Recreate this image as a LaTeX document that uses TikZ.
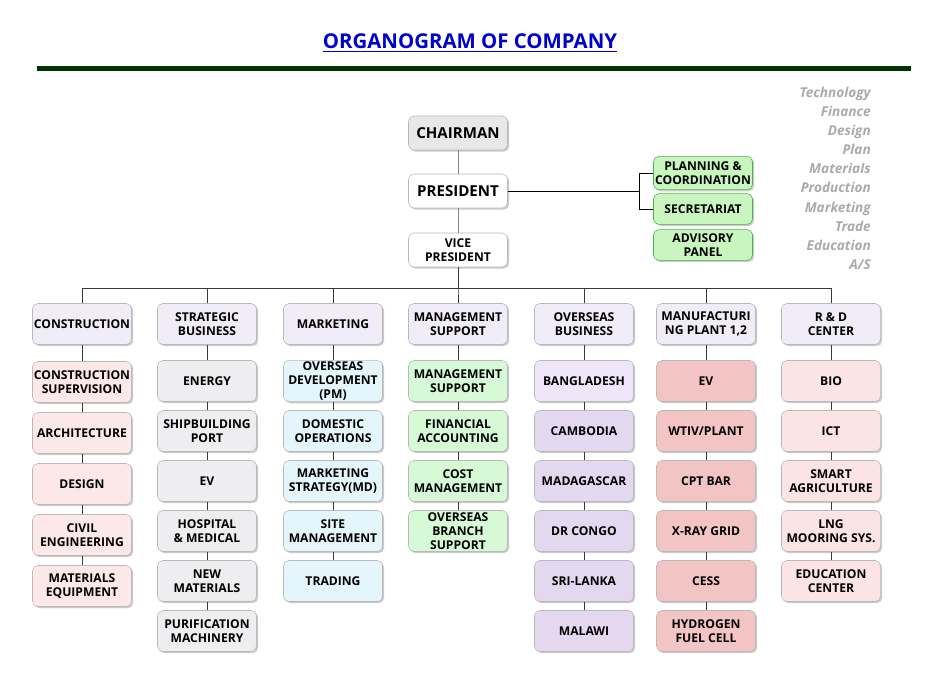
\documentclass[tikz,border=0pt]{standalone}
\usepackage{fontspec}
\setmainfont{Open Sans}
\usetikzlibrary{shadows}
\definecolor{titleblue}{RGB}{0,0,204}
\definecolor{bargreen}{RGB}{0,51,0}
\definecolor{keygray}{RGB}{170,170,170}
\definecolor{deptfill}{RGB}{240,236,248}
\definecolor{confill}{RGB}{252,232,232}
\definecolor{strfill}{RGB}{238,237,239}
\definecolor{mktfill}{RGB}{228,246,252}
\definecolor{mgtfill}{RGB}{214,250,214}
\definecolor{ovslight}{RGB}{240,230,250}
\definecolor{ovsfill}{RGB}{228,216,240}
\definecolor{mfgfill}{RGB}{242,196,196}
\definecolor{rndfill}{RGB}{252,228,228}
\definecolor{chairfill}{RGB}{232,232,232}
\definecolor{staffgreen}{RGB}{200,246,190}
\definecolor{trunkline}{RGB}{140,132,112}

\begin{document}
\begin{tikzpicture}[
  x=0.75pt, y=-0.75pt,
  box/.style={rectangle, rounded corners=4pt, draw=gray!55, fill=white,
              minimum width=74.25pt, minimum height=30.75pt, inner sep=1pt,
              align=center, font=\bfseries\fontsize{9.1}{10.5}\selectfont,
              drop shadow={shadow xshift=1.2pt, shadow yshift=-1.2pt, opacity=.35, fill=black!60}},
  head/.style={box, minimum height=25.5pt},
  staff/.style={box, fill=staffgreen, draw=green!40!gray, minimum height=23pt},
  dept/.style={box, fill=deptfill},
  conbox/.style={box, fill=confill},
  strbox/.style={box, fill=strfill},
  mktbox/.style={box, fill=mktfill},
  mgtbox/.style={box, fill=mgtfill},
  ovsbox/.style={box, fill=ovsfill},
  mfgbox/.style={box, fill=mfgfill},
  rndbox/.style={box, fill=rndfill},
  keyword/.style={anchor=base east, inner sep=0pt, text=keygray,
                  font=\bfseries\itshape\fontsize{10.2}{12}\selectfont},
  link/.style={draw=gray!45!black, line width=0.6pt},
  trunk/.style={draw=trunkline, line width=0.7pt},
  bracket/.style={draw=black, line width=0.6pt}
]
  \useasboundingbox (0,0) rectangle (944,695);

  % title and bar
  \node[text=titleblue, font=\bfseries\fontsize{15.3}{18}\selectfont] (title) at (470,43)
    {\underline{ORGANOGRAM OF COMPANY}};
  \fill[bargreen] (37,66) rectangle (911,71);

  % business fields
  \foreach \w [count=\i] in {Technology, Finance, Design, Plan, Materials,
                             Production, Marketing, Trade, Education, A/S}
    \node[keyword] (kw\i) at (871, 78.4+19.1*\i) {\w};

  % top management
  \node[head, fill=chairfill, font=\bfseries\fontsize{11.3}{13}\selectfont] (chair) at (458,133) {CHAIRMAN};
  \node[head, font=\bfseries\fontsize{11.3}{13}\selectfont] (pres) at (458,191) {PRESIDENT};
  \node[head] (vp) at (458,250) {VICE\\PRESIDENT};

  \node[staff, minimum height=25pt] (plan) at (703,173) {PLANNING \&\\COORDINATION};
  \node[staff] (sec) at (703,209) {SECRETARIAT};
  \node[staff] (adv) at (703,245) {ADVISORY\\PANEL};

  \draw[trunk] (chair) -- (pres);
  \draw[trunk] (pres) -- (vp);
  \coordinate (brk) at (640,191);
  \draw[bracket] (pres.east) -- (brk);
  \draw[bracket] (plan.west) -- ++(-14,0) |- (sec.west);

  % departments
  \foreach \c/\x/\t in {con/82/CONSTRUCTION, str/207/{STRATEGIC\\BUSINESS},
                        mkt/333/MARKETING, mgt/458/{MANAGEMENT\\SUPPORT},
                        ovs/584/{OVERSEAS\\BUSINESS}, mfg/706/{MANUFACTURI\\NG PLANT 1,2},
                        rnd/831/{R \& D\\CENTER}}
    \node[dept] (\c0) at (\x,324) {\t};

  % sections
  \foreach \t [count=\i] in {{CONSTRUCTION\\SUPERVISION}, ARCHITECTURE, DESIGN,
                             {CIVIL\\ENGINEERING}, {MATERIALS\\EQUIPMENT}}
    \node[conbox] (con\i) at (82, 331+51*\i) {\t};
  \foreach \t [count=\i] in {ENERGY, {SHIPBUILDING\\PORT}, EV, {HOSPITAL\\\& MEDICAL},
                             {NEW\\MATERIALS}, {PURIFICATION\\MACHINERY}}
    \node[strbox] (str\i) at (207, 331+50*\i) {\t};
  \foreach \t [count=\i] in {{OVERSEAS\\DEVELOPMENT\\(PM)}, {DOMESTIC\\OPERATIONS},
                             {MARKETING\\STRATEGY(MD)}, {SITE\\MANAGEMENT}, TRADING}
    \node[mktbox] (mkt\i) at (333, 331+50*\i) {\t};
  \foreach \t [count=\i] in {{MANAGEMENT\\SUPPORT}, {FINANCIAL\\ACCOUNTING},
                             {COST\\MANAGEMENT}, {OVERSEAS\\BRANCH\\SUPPORT}}
    \node[mgtbox] (mgt\i) at (458, 331+50*\i) {\t};
  \node[ovsbox, fill=ovslight] (ovs1) at (584,381) {BANGLADESH};
  \foreach \t [count=\i from 2] in {CAMBODIA, MADAGASCAR, DR CONGO, SRI-LANKA, MALAWI}
    \node[ovsbox] (ovs\i) at (584, 331+50*\i) {\t};
  \foreach \t [count=\i] in {EV, WTIV/PLANT, CPT BAR, X-RAY GRID, CESS, {HYDROGEN\\FUEL CELL}}
    \node[mfgbox] (mfg\i) at (706, 331+50*\i) {\t};
  \foreach \t [count=\i] in {BIO, ICT, {SMART\\AGRICULTURE}, {LNG\\MOORING SYS.},
                             {EDUCATION\\CENTER}}
    \node[rndbox] (rnd\i) at (831, 331+50*\i) {\t};

  % connectors
  \coordinate (bus) at (458,288);
  \foreach \c in {con,str,mkt,mgt,ovs,mfg,rnd}
    \draw[link] (vp.south) -- (bus) -| (\c0.north);
  \foreach \c/\n in {con/5,str/6,mkt/5,mgt/4,ovs/6,mfg/6,rnd/5}
    \foreach \i [remember=\i as \k (initially 0)] in {1,...,\n}
      \draw[link] (\c\k) -- (\c\i);
\end{tikzpicture}
\end{document}
